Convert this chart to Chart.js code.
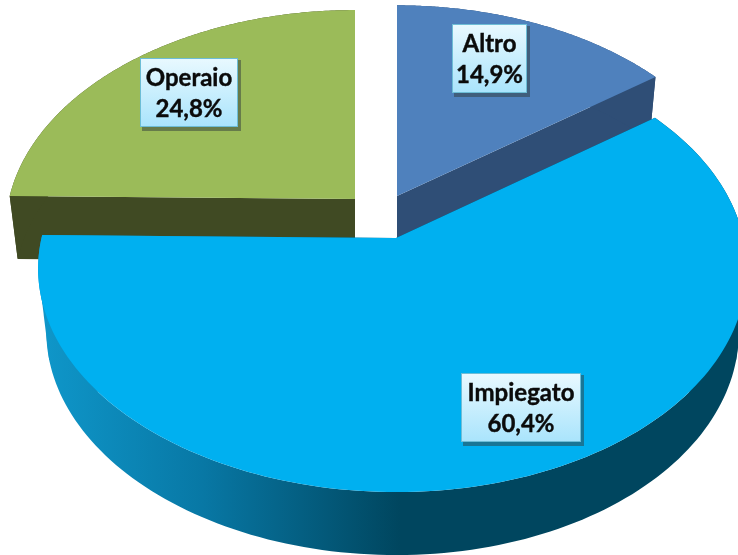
<!DOCTYPE html>
<html>
<head>
<meta charset="utf-8">
<style>html,body{margin:0;padding:0;background:#fff}canvas{display:block}</style>
<script src="https://cdn.jsdelivr.net/npm/chart.js@4"></script>
</head>
<body>
<canvas id="c" width="738" height="555"></canvas>
<script>
const categories = ['Altro', 'Impiegato', 'Operaio'];
const shares = [14.9, 60.4, 24.8];
const topColors = ['#4f81bd', '#00b0f0', '#9bbb59'];
const wallColors = ['#2f4e76', null, '#404a23'];
const apexes = [[397, 196], [396, 238], [355, 199]];
const radiiX = [347.5, 351, 346];
const leans = [0, 3.5, 0];
const radiiY = [217, 219, 215];
const labelBoxes = [[452, 24, 75, 69], [461, 373, 120, 69], [140, 58, 98, 69]];
const silhouetteDegrees = [[262, 255, 230], [98, 105, 130]];

const PERSP = 0.138, DEPTH = 63, BOTTOM_X = 0.977;

function project(i, theta, bottom) {
  const u = Math.sin(theta), v = Math.cos(theta), w = 1 + PERSP * v;
  const sx = bottom ? BOTTOM_X : 1;
  return [
    apexes[i][0] + sx * (radiiX[i] * u - leans[i] * u * u) / w,
    apexes[i][1] - radiiY[i] * v / w + (bottom ? DEPTH : 0)
  ];
}
function outline(el, i, bottom) {
  const a0 = el.startAngle + Math.PI / 2, a1 = el.endAngle + Math.PI / 2, n = 160;
  const pts = [];
  for (let k = 0; k <= n; k++) pts.push(project(i, a0 + (a1 - a0) * k / n, bottom));
  return pts;
}
function fillPoly(ctx, pts, style) {
  ctx.beginPath();
  pts.forEach((p, k) => k ? ctx.lineTo(p[0], p[1]) : ctx.moveTo(p[0], p[1]));
  ctx.closePath();
  ctx.fillStyle = style;
  ctx.fill();
}
function drawSlice(ctx, el, i) {
  const apex = apexes[i];
  const top = outline(el, i, false), bot = outline(el, i, true);
  let wall = wallColors[i];
  if (!wall) {
    wall = ctx.createLinearGradient(40, 0, 400, 0);
    wall.addColorStop(0, '#0f97ca');
    wall.addColorStop(0.45, '#0878a5');
    wall.addColorStop(1, '#00465f');
    const rad = Math.PI / 180;
    silhouetteDegrees.forEach(d => fillPoly(ctx, [
      project(i, d[0] * rad, false), project(i, d[1] * rad, true), project(i, d[2] * rad, false)
    ], wall));
  }
  const apexBottom = [apex[0], apex[1] + DEPTH];
  fillPoly(ctx, [apex, top[0], bot[0], apexBottom], wall);
  fillPoly(ctx, [apex, top[top.length - 1], bot[bot.length - 1], apexBottom], wall);
  fillPoly(ctx, top.concat(bot.slice().reverse()), wall);
  fillPoly(ctx, [apex].concat(top), topColors[i]);
}
function drawLabel(ctx, i) {
  const [x, y, w, h] = labelBoxes[i];
  ctx.save();
  ctx.fillStyle = 'rgba(50,60,60,0.5)';
  ctx.fillRect(x + 2, y + 2, w + 1, h + 2);
  const g = ctx.createLinearGradient(0, y, 0, y + h);
  g.addColorStop(0, '#e9f9ff');
  g.addColorStop(1, '#a9e4fc');
  ctx.fillStyle = g;
  ctx.fillRect(x, y, w, h);
  ctx.strokeStyle = '#6dbdd6';
  ctx.lineWidth = 1;
  ctx.strokeRect(x + 0.5, y + 0.5, w - 1, h - 1);
  ctx.fillStyle = '#0b0b0b';
  ctx.strokeStyle = '#0b0b0b';
  ctx.lineWidth = 0.4;
  ctx.font = 'bold 24px Lato';
  ctx.textAlign = 'center';
  ctx.textBaseline = 'alphabetic';
  const cx = x + w / 2;
  const line1 = categories[i], line2 = shares[i].toFixed(1).replace('.', ',') + '%';
  ctx.fillText(line1, cx, y + 28);
  ctx.strokeText(line1, cx, y + 28);
  ctx.fillText(line2, cx, y + 59);
  ctx.strokeText(line2, cx, y + 59);
  ctx.restore();
}
const pie3d = {
  id: 'pie3d',
  beforeDatasetDraw(chart, args) {
    const ctx = chart.ctx, els = chart.getDatasetMeta(args.index).data;
    [2, 0, 1].forEach(i => drawSlice(ctx, els[i], i));
    return false;
  },
  afterDatasetsDraw(chart) {
    categories.forEach((_, i) => drawLabel(chart.ctx, i));
  }
};
new Chart(document.getElementById('c'), {
  type: 'pie',
  data: { labels: categories, datasets: [{ data: shares, backgroundColor: topColors, borderWidth: 0 }] },
  options: {
    responsive: false,
    animation: false,
    events: [],
    rotation: 0,
    layout: { padding: 0 },
    plugins: { legend: { display: false }, tooltip: { enabled: false } }
  },
  plugins: [pie3d]
});
</script>
</body>
</html>
